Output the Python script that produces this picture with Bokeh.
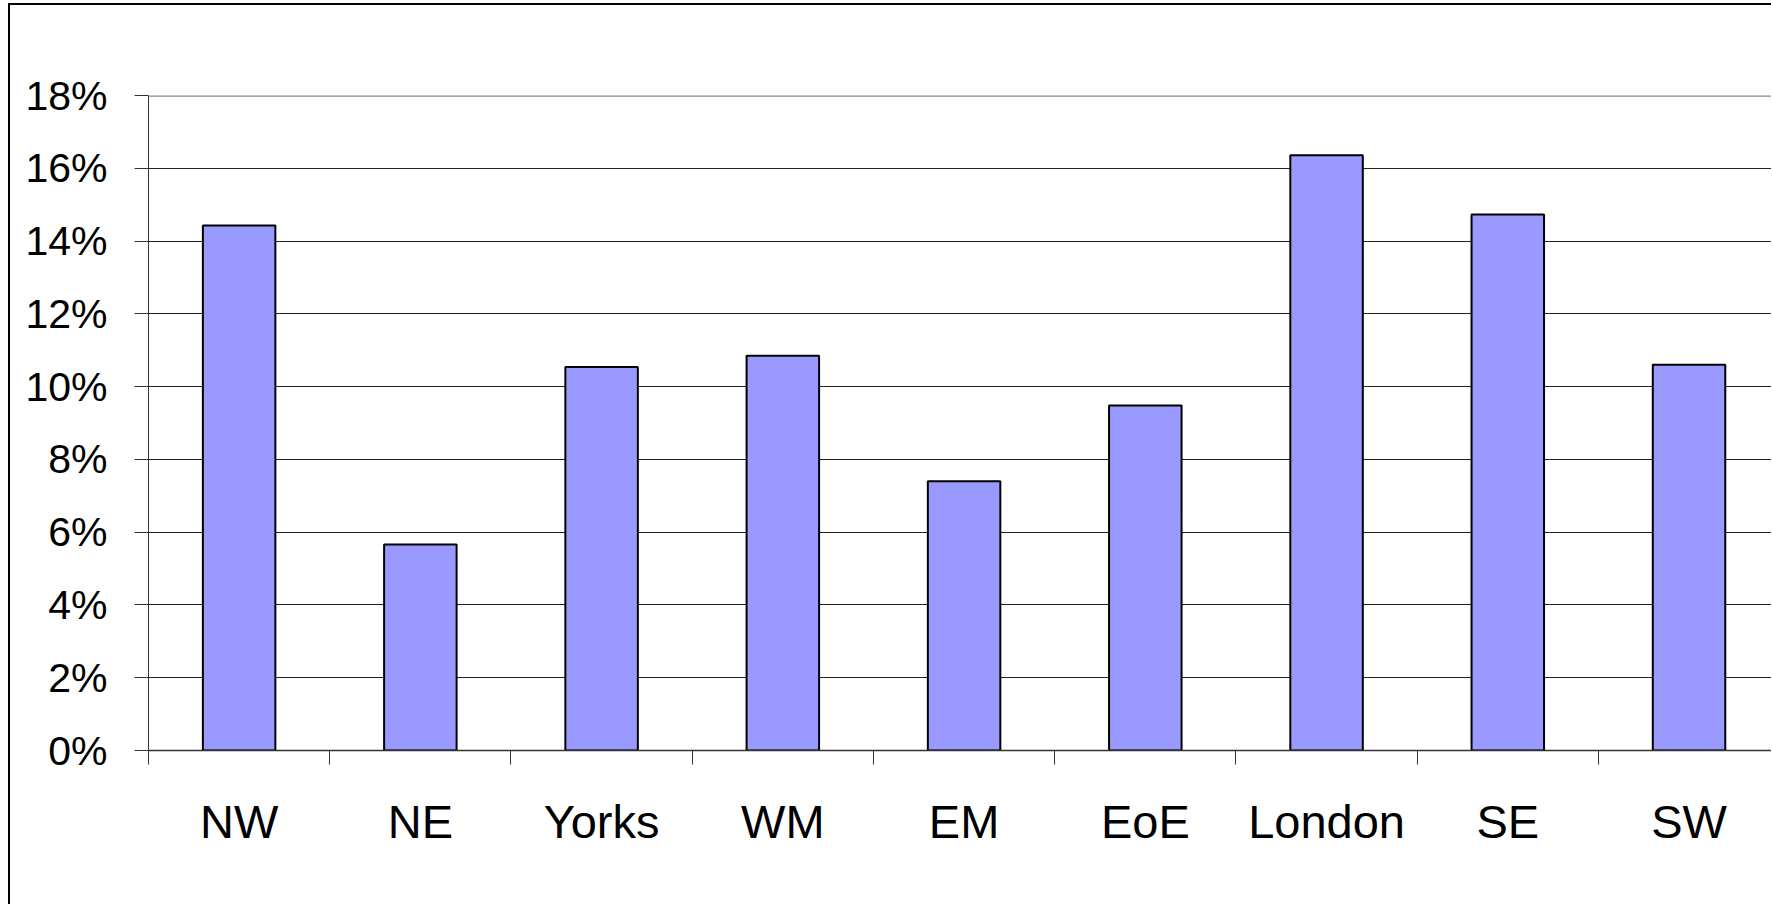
from bokeh.plotting import figure
from bokeh.models import Range1d, FixedTicker, NumeralTickFormatter, Span
from bokeh.embed import file_html
from bokeh.resources import INLINE

categories = ["NW", "NE", "Yorks", "WM", "EM", "EoE", "London", "SE", "SW"]
values = [0.1443, 0.0566, 0.1054, 0.1085, 0.0740, 0.0948, 0.1636, 0.1473, 0.1060]
y_ticks = [0.0, 0.02, 0.04, 0.06, 0.08, 0.10, 0.12, 0.14, 0.16, 0.18]

x_pos = [i + 0.5 for i in range(len(categories))]
boundaries = list(range(len(categories) + 1))

p = figure(width=1763, height=901,
           x_range=Range1d(0, 8.966), y_range=Range1d(0, 0.18),
           output_backend="svg", toolbar_location=None,
           min_border_left=138, min_border_top=90, min_border_bottom=156,
           min_border_right=0, margin=(3, 0, 0, 8))
p.styles = {"border-left": "2px solid black", "border-top": "2px solid black"}
p.outline_line_color = None
p.background_fill_color = "white"
p.border_fill_color = "white"

p.xgrid.visible = False
p.ygrid.ticker = FixedTicker(ticks=y_ticks[:-1])
p.ygrid.grid_line_color = "#222222"
p.ygrid.grid_line_width = 1

top_line = Span(location=y_ticks[-1], dimension="width", line_color="#888888", line_width=2.5)
p.add_layout(top_line)

p.vbar(x=x_pos, top=values, width=0.4, bottom=0,
       fill_color="#9999FF", line_color="black", line_width=2)

# y axis
p.yaxis.ticker = FixedTicker(ticks=y_ticks)
p.yaxis.formatter = NumeralTickFormatter(format="0%")
p.yaxis.major_tick_out = 14
p.yaxis.major_tick_in = 0
p.yaxis.minor_tick_out = 0
p.yaxis.minor_tick_in = 0
p.yaxis.axis_line_color = "#333333"
p.yaxis.major_tick_line_color = "#333333"
p.yaxis.major_label_text_font = "Liberation Sans"
p.yaxis.major_label_text_font_size = "41px"
p.yaxis.major_label_text_color = "black"
p.yaxis.major_label_standoff = 27

# x axis
p.xaxis.ticker = FixedTicker(ticks=x_pos, minor_ticks=boundaries)
p.xaxis.major_label_overrides = {x: c for x, c in zip(x_pos, categories)}
p.xaxis.major_tick_out = 0
p.xaxis.major_tick_in = 0
p.xaxis.minor_tick_out = 14
p.xaxis.minor_tick_in = 0
p.xaxis.minor_tick_line_color = "#333333"
p.xaxis.axis_line_color = "#333333"
p.xaxis.axis_line_width = 1.5
p.xaxis.major_label_text_font = "Liberation Sans"
p.xaxis.major_label_text_font_size = "47px"
p.xaxis.major_label_text_color = "black"
p.xaxis.major_label_standoff = 30

open("out.html", "w").write(file_html(p, INLINE))
